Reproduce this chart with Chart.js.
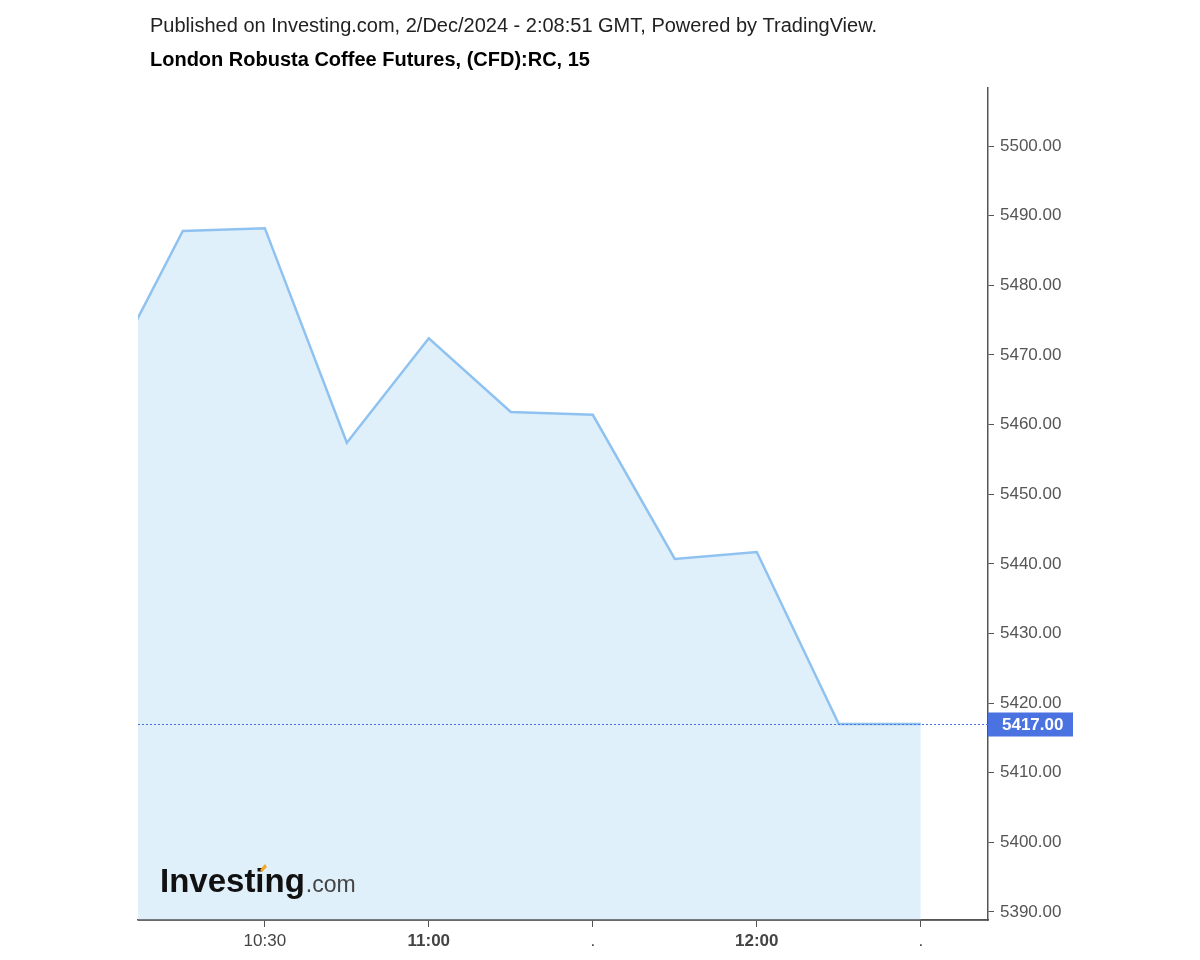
<!DOCTYPE html>
<html>
<head>
<meta charset="utf-8">
<script src="https://cdn.jsdelivr.net/npm/chart.js@4"></script>
<style>
  html, body { margin: 0; padding: 0; background: #fff; }
</style>
</head>
<body>
<canvas id="lineChart" width="1200" height="960"></canvas>
<script>
// 15-minute closes
const times = ["10:00", "10:15", "10:30", "10:45", "11:00", "11:15", "11:30", "11:45", "12:00", "12:15", "12:30"];
const closes = [5465.0, 5487.8, 5488.2, 5457.4, 5472.4, 5461.8, 5461.4, 5440.7, 5441.7, 5417.0, 5417.0];
const lastPrice = 5417.0;

const xTickTimes = ["10:30", "11:00", "11:30", "12:00", "12:30"];
const xTickLabels = ["10:30", "11:00", ".", "12:00", "."];
const xTickBold = [false, true, false, true, false];
const yTicks = [5390, 5400, 5410, 5420, 5430, 5440, 5450, 5460, 5470, 5480, 5490, 5500];

const toMin = (t) => {
    let p = t.split(":");
    return parseInt(p[0]) * 60 + parseInt(p[1]);
};

const points = times.map((t, i) => ({ x: toMin(t), y: closes[i] }));

const FONT = "'Liberation Sans', Arial, sans-serif";

const extras = {
    id: "extras",
    afterDraw(chart) {
        const ctx = chart.ctx;
        const area = chart.chartArea;
        const y = chart.scales.y;
        const py = Math.round(y.getPixelForValue(lastPrice)) + 0.5;

        ctx.save();
        // bottom axis line on top of the fill
        ctx.strokeStyle = "#555";
        ctx.lineWidth = 1.5;
        ctx.beginPath();
        ctx.moveTo(area.left, area.bottom);
        ctx.lineTo(area.right, area.bottom);
        ctx.stroke();

        // last price dotted line
        ctx.strokeStyle = "#4a72e0";
        ctx.lineWidth = 1;
        ctx.setLineDash([2, 2]);
        ctx.beginPath();
        ctx.moveTo(area.left, py);
        ctx.lineTo(area.right, py);
        ctx.stroke();
        ctx.setLineDash([]);

        // last price label box
        ctx.fillStyle = "#4a72e0";
        ctx.fillRect(area.right, py - 12, 85, 24);
        ctx.fillStyle = "#fff";
        ctx.font = "bold 17px " + FONT;
        ctx.textBaseline = "middle";
        ctx.textAlign = "left";
        ctx.fillText(lastPrice.toFixed(2), area.right + 14, py + 1);

        // header
        ctx.fillStyle = "#222";
        ctx.font = "20px " + FONT;
        ctx.fillText("Published on Investing.com, 2/Dec/2024 - 2:08:51 GMT, Powered by TradingView.", 150, 26);
        ctx.fillStyle = "#000";
        ctx.font = "bold 20px " + FONT;
        ctx.fillText("London Robusta Coffee Futures, (CFD):RC, 15", 150, 60);

        // watermark logo
        ctx.textBaseline = "alphabetic";
        ctx.fillStyle = "#111";
        ctx.font = "bold 33px " + FONT;
        ctx.fillText("Investing", 160, 892);
        const w = ctx.measureText("Investing").width;
        ctx.font = "23px " + FONT;
        ctx.fillStyle = "#444";
        ctx.fillText(".com", 160 + w + 1, 892);
        ctx.fillStyle = "#f5a623";
        ctx.beginPath();
        ctx.moveTo(260, 870);
        ctx.lineTo(265, 864);
        ctx.lineTo(267, 867);
        ctx.lineTo(262, 872);
        ctx.closePath();
        ctx.fill();
        ctx.restore();
    },
};

let ctx = document.getElementById("lineChart").getContext("2d");
let myChart = new Chart(ctx, {
    type: "line",
    data: {
        datasets: [
            {
                label: "RC",
                data: points,
                borderColor: "#8fc2f0",
                borderWidth: 2.5,
                backgroundColor: "#e0f0fa",
                fill: "start",
                pointRadius: 0,
                tension: 0,
                clip: 0,
            },
        ],
    },
    options: {
        responsive: false,
        animation: false,
        layout: { padding: { left: 138, top: 88, right: 0, bottom: 0 } },
        plugins: {
            legend: { display: false },
            tooltip: { enabled: false },
        },
        scales: {
            x: {
                type: "linear",
                min: 606.8,
                max: 762.3,
                afterBuildTicks: (axis) => {
                    axis.ticks = xTickTimes.map((t) => ({ value: toMin(t) }));
                },
                afterFit: (axis) => {
                    axis.height = 40;
                },
                grid: {
                    drawOnChartArea: false,
                    drawTicks: true,
                    tickLength: 7,
                    color: "#555",
                },
                border: { display: true, color: "#555", width: 1.5 },
                ticks: {
                    autoSkip: false,
                    maxRotation: 0,
                    padding: 4,
                    color: "#444",
                    font: (c) => ({
                        family: FONT,
                        size: 17,
                        weight: xTickBold[c.index] ? "bold" : "normal",
                    }),
                    callback: (v, i) => xTickLabels[i],
                },
            },
            y: {
                position: "right",
                min: 5388.85,
                max: 5508.33,
                afterBuildTicks: (axis) => {
                    axis.ticks = yTicks.map((v) => ({ value: v }));
                },
                afterFit: (axis) => {
                    axis.width = 212;
                },
                grid: {
                    drawOnChartArea: false,
                    drawTicks: true,
                    tickLength: 6,
                    color: "#555",
                },
                border: { display: true, color: "#555", width: 1.5 },
                ticks: {
                    padding: 6,
                    color: "#555",
                    font: { family: FONT, size: 17 },
                    callback: (v) => v.toFixed(2),
                },
            },
        },
    },
    plugins: [extras],
});
</script>
</body>
</html>
